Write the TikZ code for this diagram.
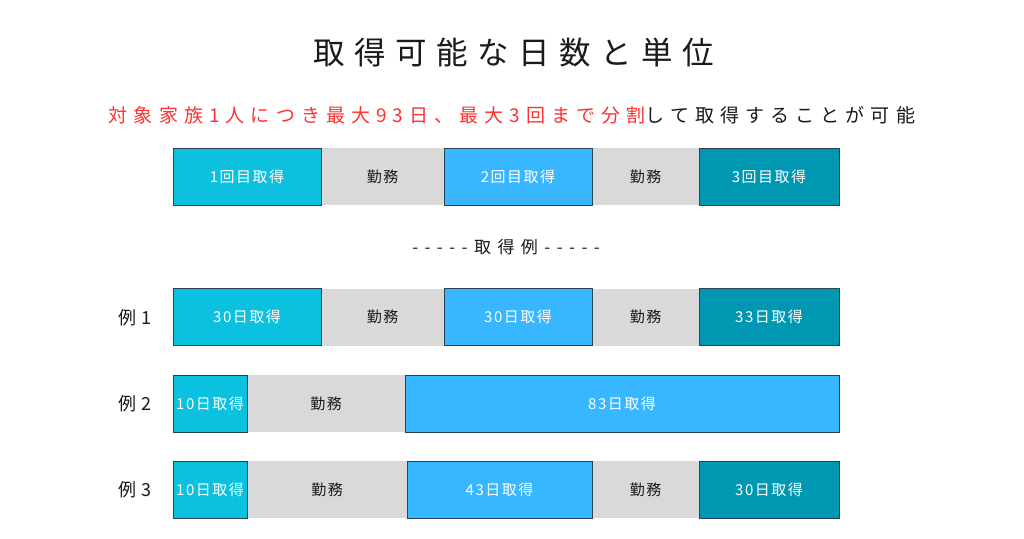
\documentclass[tikz,border=0pt]{standalone}
\usepackage{fontspec}
\newfontfamily\jpls[LetterSpace=25]{Noto Sans CJK JP}
\newfontfamily\jptitle[LetterSpace=30]{Noto Sans CJK JP}
\newfontfamily\jpsub[LetterSpace=32]{Noto Sans CJK JP}
\newfontfamily\jphead[LetterSpace=38]{Noto Sans CJK JP}
\newfontfamily\jplss[LetterSpace=10]{Noto Sans CJK JP}
\definecolor{cyanbox}{HTML}{0CC0DF}
\definecolor{bluebox}{HTML}{38B6FF}
\definecolor{tealbox}{HTML}{0097B2}
\definecolor{graybox}{HTML}{D9D9D9}
\definecolor{redtext}{HTML}{FF3131}
\definecolor{edgecol}{HTML}{2C4450}
\definecolor{darktext}{HTML}{1A1A1A}
\tikzset{
  seg/.style={rectangle, inner sep=0pt, minimum height=57pt, text=white, font=\jplss\fontsize{15}{15}\selectfont},
  take1/.style={seg, fill=cyanbox, draw=edgecol, line width=0.9pt},
  take2/.style={seg, fill=bluebox, draw=edgecol, line width=0.9pt},
  take3/.style={seg, fill=tealbox, draw=edgecol, line width=0.9pt},
  work/.style={seg, fill=graybox, text=darktext},
  rowlabel/.style={inner sep=0pt, text=darktext, font=\jpls\fontsize{18}{18}\selectfont},
}
\begin{document}
\begin{tikzpicture}[x=1pt,y=-1pt]
\useasboundingbox[fill=white] (0,0) rectangle (1024,538);
% title
\node[inner sep=0pt, text=darktext, font=\jptitle\fontsize{31.5}{31.5}\selectfont] (title) at (514,53) {取得可能な日数と単位};
\node[inner sep=0pt, text=darktext, font=\jpsub\fontsize{19}{19}\selectfont] (sub) at (512,115)
  {\textcolor{redtext}{対象家族1人につき最大93日、最大3回まで分割}して取得することが可能};
% row 1
\node[work, minimum width=123pt] (w11) at (382.5,176.5) {\raisebox{-1.5pt}{勤務}};
\node[work, minimum width=107pt] (w12) at (645.5,176.5) {\raisebox{-1.5pt}{勤務}};
\node[take1, minimum width=148pt] (a1) at (247,176.5) {\raisebox{-1.5pt}{1回目取得}};
\node[take2, minimum width=148pt] (a2) at (518,176.5) {\raisebox{-1.5pt}{2回目取得}};
\node[take3, minimum width=140pt] (a3) at (769,176.5) {\raisebox{-1.5pt}{3回目取得}};
% example header
\node[inner sep=0pt, text=darktext, font=\jphead\fontsize{17}{17}\selectfont] (exh) at (506,247) {-----取得例-----};
% example 1
\node[rowlabel] (l1) at (135,318) {例1};
\node[work, minimum width=123pt] (w21) at (382.5,317) {勤務};
\node[work, minimum width=107pt] (w22) at (645.5,317) {勤務};
\node[take1, minimum width=148pt] (b1) at (247,317) {30日取得};
\node[take2, minimum width=148pt] (b2) at (518,317) {30日取得};
\node[take3, minimum width=140pt] (b3) at (769,317) {33日取得};
% example 2
\node[rowlabel] (l2) at (135,404) {例2};
\node[work, minimum width=158pt] (w31) at (326,403.5) {勤務};
\node[take1, minimum width=74pt] (c1) at (210,403.5) {10日取得};
\node[take2, minimum width=434pt] (c2) at (622,403.5) {\raisebox{-1.5pt}{83日取得}};
% example 3
\node[rowlabel] (l3) at (135,490) {例3};
\node[work, minimum width=160pt] (w41) at (327,489.5) {勤務};
\node[work, minimum width=107pt] (w42) at (645.5,489.5) {勤務};
\node[take1, minimum width=74pt] (d1) at (210,489.5) {10日取得};
\node[take2, minimum width=185pt] (d2) at (499.5,489.5) {43日取得};
\node[take3, minimum width=140pt] (d3) at (769,489.5) {30日取得};
\end{tikzpicture}
\end{document}
